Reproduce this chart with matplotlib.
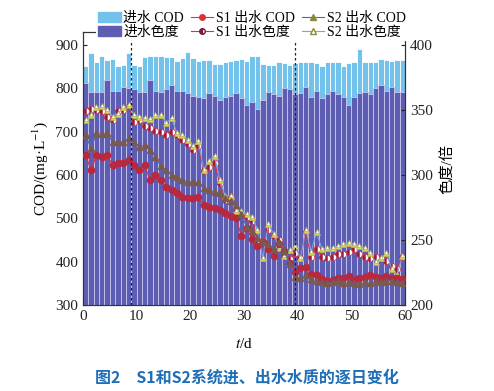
import numpy as np
import matplotlib
matplotlib.use("Agg")
import matplotlib.pyplot as plt
from matplotlib.lines import Line2D
from matplotlib.patches import Patch

plt.rcParams['font.family'] = ['Liberation Serif', 'Noto Sans CJK SC']
plt.rcParams['mathtext.fontset'] = 'stix'

days = np.arange(60) + 0.5

# influent COD (mg/L) and influent colour (times)
cod_in = [852, 882, 862, 875, 865, 867, 852, 854, 882, 854, 852, 873, 875, 875, 875, 872,
          872, 864, 869, 885, 869, 864, 865, 865, 856, 856, 862, 864, 865, 867, 864,
          875, 875, 856, 854, 854, 862, 859, 854, 859, 862, 862, 862, 859, 852, 862,
          862, 862, 852, 859, 862, 890, 862, 862, 862, 867, 865, 864, 865, 865]
color_in = [371, 364, 364, 364, 373, 365, 365, 368, 367, 366, 364, 364, 373, 365, 364, 366,
            369, 365, 365, 363, 361, 360, 359, 363, 361, 358, 360, 361, 363, 359, 354,
            356, 351, 358, 364, 362, 361, 367, 366, 362, 363, 368, 360, 365, 359, 362,
            365, 362, 360, 354, 360, 363, 364, 362, 367, 369, 365, 368, 364, 364]

s1_cod = [646, 611, 646, 642, 646, 623, 628, 627, 635, 623, 611, 623, 588, 600, 588, 573,
          565, 558, 550, 546, 546, 550, 531, 527, 523, 519, 512, 505, 500, 460, 477,
          452, 435, 446, 430, 412, 440, 425, 398, 375, 385, 388, 372, 370, 360, 356,
          358, 362, 362, 366, 358, 362, 365, 370, 365, 362, 366, 362, 362, 360]
s2_cod = [692, 662, 696, 695, 696, 677, 677, 677, 685, 677, 665, 669, 658, 642, 620, 611,
          600, 596, 588, 585, 583, 583, 569, 565, 561, 558, 546, 540, 531, 510, 480,
          470, 455, 445, 440, 430, 445, 425, 395, 365, 362, 370, 360, 356, 352, 350,
          352, 355, 350, 352, 350, 348, 352, 350, 355, 352, 355, 356, 352, 350]
s1_color = [349, 351, 350, 349, 345, 342, 349, 350, 353, 341, 342, 338, 336, 334, 333, 331,
            333, 331, 327, 324, 319, 322, 303, 306, 309, 294, 281, 283, 273, 270, 268,
            265, 250, 247, 258, 253, 250, 238, 235, 240, 236, 256, 237, 243, 237, 236,
            237, 239, 239, 241, 243, 239, 237, 236, 237, 236, 234, 230, 228, 237]
s2_color = [342, 346, 352, 353, 350, 345, 347, 352, 354, 346, 345, 344, 343, 346, 346, 340,
            344, 332, 331, 327, 322, 326, 304, 311, 315, 296, 284, 284, 272, 272, 270,
            268, 258, 236, 262, 255, 244, 238, 242, 245, 236, 258, 241, 256, 243, 244,
            244, 245, 247, 248, 247, 245, 244, 240, 233, 236, 240, 228, 223, 238]

fig = plt.figure(figsize=(4.94, 3.91), dpi=100)
ax = fig.add_axes([0.168, 0.22, 0.652, 0.698])
ax2 = ax.twinx()
ax3 = ax.twinx()

ax.bar(days, cod_in, width=1.0, color='#72c2ec', edgecolor='white', linewidth=0.6)
ax2.bar(days, color_in, width=1.0, color='#5d5db3', edgecolor='#c8c8ee', linewidth=0.6)

ax2.plot(days, s1_color, color='#e0303a', lw=0.8, marker='o', ms=4.5,
         fillstyle='left', markerfacecolor='#9a1e3a', markerfacecoloralt='white',
         markeredgecolor='#c0304a', markeredgewidth=0.5)
ax2.plot(days, s2_color, color='#7ea0e0', lw=0.8, marker='^', ms=4.5,
         fillstyle='bottom', markerfacecolor='#d8d860', markerfacecoloralt='white',
         markeredgecolor='#b8b848', markeredgewidth=0.5)
ax3.plot(days, s1_cod, color='#e0303a', lw=0.8, marker='o', ms=4.5,
         markerfacecolor='#b8283e', markeredgecolor='#b8283e')
ax3.plot(days, s2_cod, color='#4a6ab8', lw=0.8, marker='^', ms=4.5,
         markerfacecolor='#7a5a4e', markeredgecolor='#7a5a4e')

for x in [9, 39.5]:
    ax3.axvline(x, color='#1a1a50', lw=0.9, ls=(0, (2, 2)))

ax.set_xlim(0, 60)
ax.set_ylim(300, 930)
ax3.set_ylim(300, 930)
ax2.set_ylim(200, 410)
ax.set_xticks(range(0, 61, 10))
ax.set_yticks(range(300, 901, 100))
ax2.set_yticks(range(200, 401, 50))
ax3.axis('off')

for a in (ax, ax2):
    a.tick_params(direction='in', length=3, labelsize=11, colors='#222222')
    for s in a.spines.values():
        s.set_color('#333333')
        s.set_linewidth(0.8)

ax.set_ylabel('COD/(mg·L$^{-1}$)', fontsize=11, labelpad=4)
ax2.set_ylabel('色度/倍', fontsize=11, labelpad=6)
ax.set_xlabel('$t$/d', fontsize=11, labelpad=10)

handles = [
    Patch(color='#72c2ec', label='进水 COD'),
    Patch(color='#5d5db3', label='进水色度'),
    Line2D([], [], color='#e0303a', lw=0.8, marker='o', ms=4, markerfacecolor='#e0303a',
           label='S1 出水 COD'),
    Line2D([], [], color='#e0303a', lw=0.8, marker='o', ms=4, fillstyle='left',
           markerfacecolor='#7a1e3a', markerfacecoloralt='white', markeredgecolor='#7a1e3a',
           label='S1 出水色度'),
    Line2D([], [], color='#4a6ab8', lw=0.8, marker='^', ms=4, markerfacecolor='#8a8a30',
           markeredgecolor='#8a8a30', label='S2 出水 COD'),
    Line2D([], [], color='#7ea0e0', lw=0.8, marker='^', ms=4, markerfacecolor='white',
           markeredgecolor='#8a8a30', label='S2 出水色度'),
]
leg = fig.legend(handles=handles, loc='upper center', bbox_to_anchor=(0.51, 0.975), ncol=3,
                 frameon=True, facecolor='white', edgecolor='none', framealpha=1.0,
                 fancybox=False, fontsize=10, handlelength=1.6, handleheight=0.7,
                 handletextpad=0.2, columnspacing=0.5, labelspacing=0.05,
                 borderpad=0.15, borderaxespad=0.0)
leg.set_zorder(10)

fig.text(0.5, 0.035, '图2　S1和S2系统进、出水水质的逐日变化', ha='center', va='center',
         fontsize=11.5, color='#1f6fb8', fontweight='bold', family=['Noto Sans CJK SC'])

fig.savefig('out.png', dpi=100)
